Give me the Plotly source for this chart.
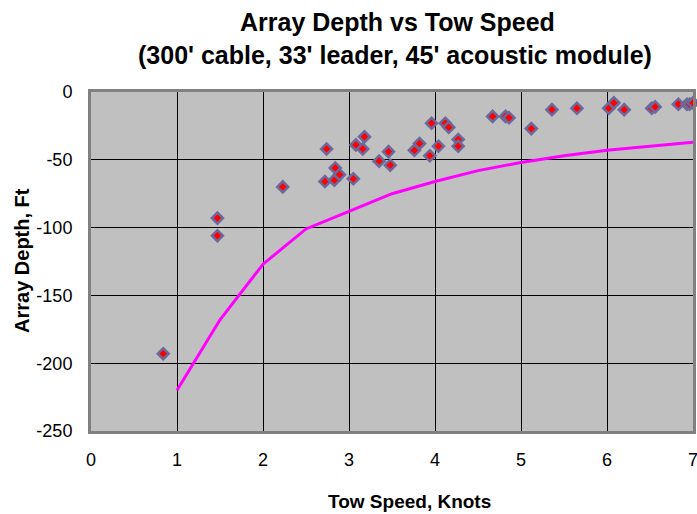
import plotly.graph_objects as go

# Measured data (tow speed in knots, array depth in feet)
measured_speed = [0.84, 1.47, 1.47, 2.23, 2.72, 2.74, 2.83, 2.84, 2.89, 3.05, 3.08, 3.16, 3.18,
                  3.35, 3.46, 3.48, 3.76, 3.82, 3.94, 3.96, 4.04, 4.12, 4.16, 4.27, 4.27,
                  4.67, 4.82, 4.86, 5.12, 5.36, 5.65, 6.02, 6.08, 6.20, 6.52, 6.56, 6.83,
                  6.93, 6.96, 7.0]
measured_depth = [-193, -93, -106, -70, -66, -42, -65, -56, -61, -64, -39, -42, -33,
                  -51, -44, -54, -43, -38, -47, -23, -40, -23, -26, -35, -40,
                  -18, -18, -19, -27, -13, -12, -12, -8, -13, -12, -11, -9,
                  -9, -9, -8]

# Predicted curve
model_speed = [1, 1.5, 2, 2.5, 3, 3.5, 4, 4.5, 5, 5.5, 6, 6.5, 7]
model_depth = [-220, -168, -127, -101, -88, -75, -66, -58, -52, -47, -43, -40, -37]

x_ticks = [0, 1, 2, 3, 4, 5, 6, 7]
y_ticks = [0, -50, -100, -150, -200, -250]

FONT = "Liberation Sans, Arial, sans-serif"

W, H = 697, 514
PL, PR, PT, PB = 91, 693, 92, 431  # plot area in screen pixels


def px(sx):
    return (sx - PL) / (PR - PL)


def py(sy):
    return (PB - sy) / (PB - PT)


fig = go.Figure()
fig.add_trace(go.Scatter(
    x=model_speed, y=model_depth, mode="lines",
    line=dict(color="#FF00FF", width=3), showlegend=False, cliponaxis=False))
fig.add_trace(go.Scatter(
    x=measured_speed, y=measured_depth, mode="markers",
    marker=dict(symbol="diamond", size=8.5, color="#FF0000",
                line=dict(color="#6A6A9C", width=2.5)),
    showlegend=False, cliponaxis=False))

fig.update_layout(
    width=W, height=H,
    margin=dict(l=PL, r=W - PR, t=PT, b=H - PB),
    paper_bgcolor="white", plot_bgcolor="#C0C0C0",
    font=dict(family=FONT, color="black", size=18),
    annotations=[
        dict(text="<b>Array Depth vs Tow Speed</b>", xref="paper", yref="paper",
             x=px(397), y=py(22), xanchor="center", yanchor="middle",
             showarrow=False, font=dict(size=25)),
        dict(text="<b>(300' cable, 33' leader, 45' acoustic module)</b>", xref="paper", yref="paper",
             x=px(395), y=py(55), xanchor="center", yanchor="middle",
             showarrow=False, font=dict(size=25)),
        dict(text="<b>Tow Speed, Knots</b>", xref="paper", yref="paper",
             x=px(409), y=py(501), xanchor="center", yanchor="middle",
             showarrow=False, font=dict(size=19)),
        dict(text="<b>Array Depth, Ft</b>", xref="paper", yref="paper",
             x=px(22), y=py(261), xanchor="center", yanchor="middle",
             textangle=-90, showarrow=False, font=dict(size=20)),
    ],
)
fig.update_xaxes(
    range=[0, 7], tickvals=x_ticks, ticktext=[str(v) for v in x_ticks],
    showgrid=True, gridcolor="black", gridwidth=1, zeroline=False,
    showline=True, linecolor="#808080", linewidth=3, mirror=True,
    ticks="", ticklabelstandoff=10, automargin=False, ticklabeloverflow="allow",
    tickfont=dict(size=18))
fig.update_yaxes(
    range=[-250, 0], tickvals=y_ticks, ticktext=[str(v) for v in y_ticks],
    showgrid=True, gridcolor="black", gridwidth=1, zeroline=False,
    showline=True, linecolor="#808080", linewidth=3, mirror=True,
    ticks="", ticklabelstandoff=12, automargin=False, ticklabeloverflow="allow",
    tickfont=dict(size=18))

fig.write_html(
    "out.html",
    config={"displayModeBar": False},
    post_script="document.body.style.margin='0';document.body.style.overflow='hidden';",
)
